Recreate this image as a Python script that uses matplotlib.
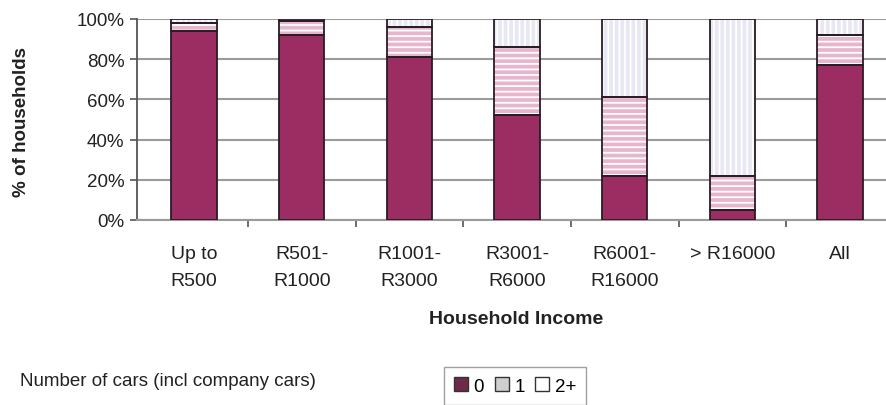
import numpy as np
import matplotlib.pyplot as plt
from matplotlib.patches import Patch

plt.rcParams['font.family'] = ['Liberation Sans', 'DejaVu Sans']
plt.rcParams['hatch.linewidth'] = 1.3

# Share of households by number of cars, per income band (%)
categories = ['Up to\nR500', 'R501-\nR1000', 'R1001-\nR3000', 'R3001-\nR6000',
              'R6001-\nR16000', '> R16000', 'All']
cars_0 = [94, 92, 81, 52, 22, 5, 77]
cars_1 = [4, 7, 15, 34, 39, 17, 15]
cars_2plus = [2, 1, 4, 14, 39, 78, 8]

series = [cars_0, cars_1, cars_2plus]
labels = ['0', '1', '2+']
fills = ['#9b2d62', '#e7b6cd', '#e8e8f3']
hatches = [None, '---', '|||']
edge = '#2b1b24'

fig = plt.figure(figsize=(8.87, 4.06), dpi=100)
ax = fig.add_axes([137 / 887, 1 - 221 / 406, 750 / 887, 201 / 406])

x = np.arange(len(categories))
width = 0.42
bottom = np.zeros(len(categories))
for vals, fc, h in zip(series, fills, hatches):
    vals = np.array(vals, dtype=float)
    if h:
        ax.bar(x, vals, width, bottom=bottom, color=fc, hatch=h,
               edgecolor='white', linewidth=0, zorder=3)
    else:
        ax.bar(x, vals, width, bottom=bottom, color=fc, linewidth=0, zorder=3)
    ax.bar(x, vals, width, bottom=bottom, facecolor='none',
           edgecolor=edge, linewidth=1.3, zorder=4)
    bottom += vals

ax.set_xlim(-0.53, 6.436)
ax.set_ylim(0, 100)
ax.set_yticks(range(0, 101, 20))
ax.set_yticklabels([f'{v}%' for v in range(0, 101, 20)], fontsize=13.5, color='#222222')
ax.yaxis.grid(True, color='#9a9a9a', linewidth=1.5, zorder=0)
ax.set_axisbelow(True)

ax.set_xticks(x)
ax.set_xticklabels(categories, fontsize=14, color='#222222', va='top', linespacing=1.8)
ax.tick_params(axis='x', which='major', length=0, pad=18)
ax.set_xticks(np.arange(0.5, len(categories) - 1, 1), minor=True)
ax.tick_params(axis='x', which='minor', length=5, width=1.2, color='#555555', direction='out')
ax.tick_params(axis='y', length=5, width=1.2, color='#555555', pad=4)

for side in ['top', 'right']:
    ax.spines[side].set_visible(False)
ax.spines['left'].set_color('#555555')
ax.spines['left'].set_linewidth(1.3)
ax.spines['bottom'].set_color('#9a9a9a')
ax.spines['bottom'].set_linewidth(1.5)

fig.text(22 / 887, 1 - 122 / 406, '% of households', rotation=90,
         ha='center', va='center', fontsize=13.5, fontweight='bold', color='#222222')
fig.text(516 / 887, 1 - 320 / 406, 'Household Income', ha='center', va='center',
         fontsize=14, fontweight='bold', color='#222222')
fig.text(20 / 887, 1 - 382 / 406, 'Number of cars (incl company cars)', ha='left',
         va='center', fontsize=13.5, color='#222222')

handles = [Patch(facecolor='#6e2a48', edgecolor='#333333'),
           Patch(facecolor='#cfcfcf', edgecolor='#333333'),
           Patch(facecolor='white', edgecolor='#333333')]
leg = fig.legend(handles, labels, loc='center', bbox_to_anchor=(515 / 887, 1 - 387 / 406),
                 ncol=3, fontsize=13.5, frameon=True, fancybox=False,
                 handlelength=0.75, handleheight=0.75, handletextpad=0.3,
                 columnspacing=0.55, borderpad=0.55, borderaxespad=0)
leg.get_frame().set_edgecolor('#888888')
leg.get_frame().set_linewidth(1.0)

fig.savefig('out.png', dpi=100)
